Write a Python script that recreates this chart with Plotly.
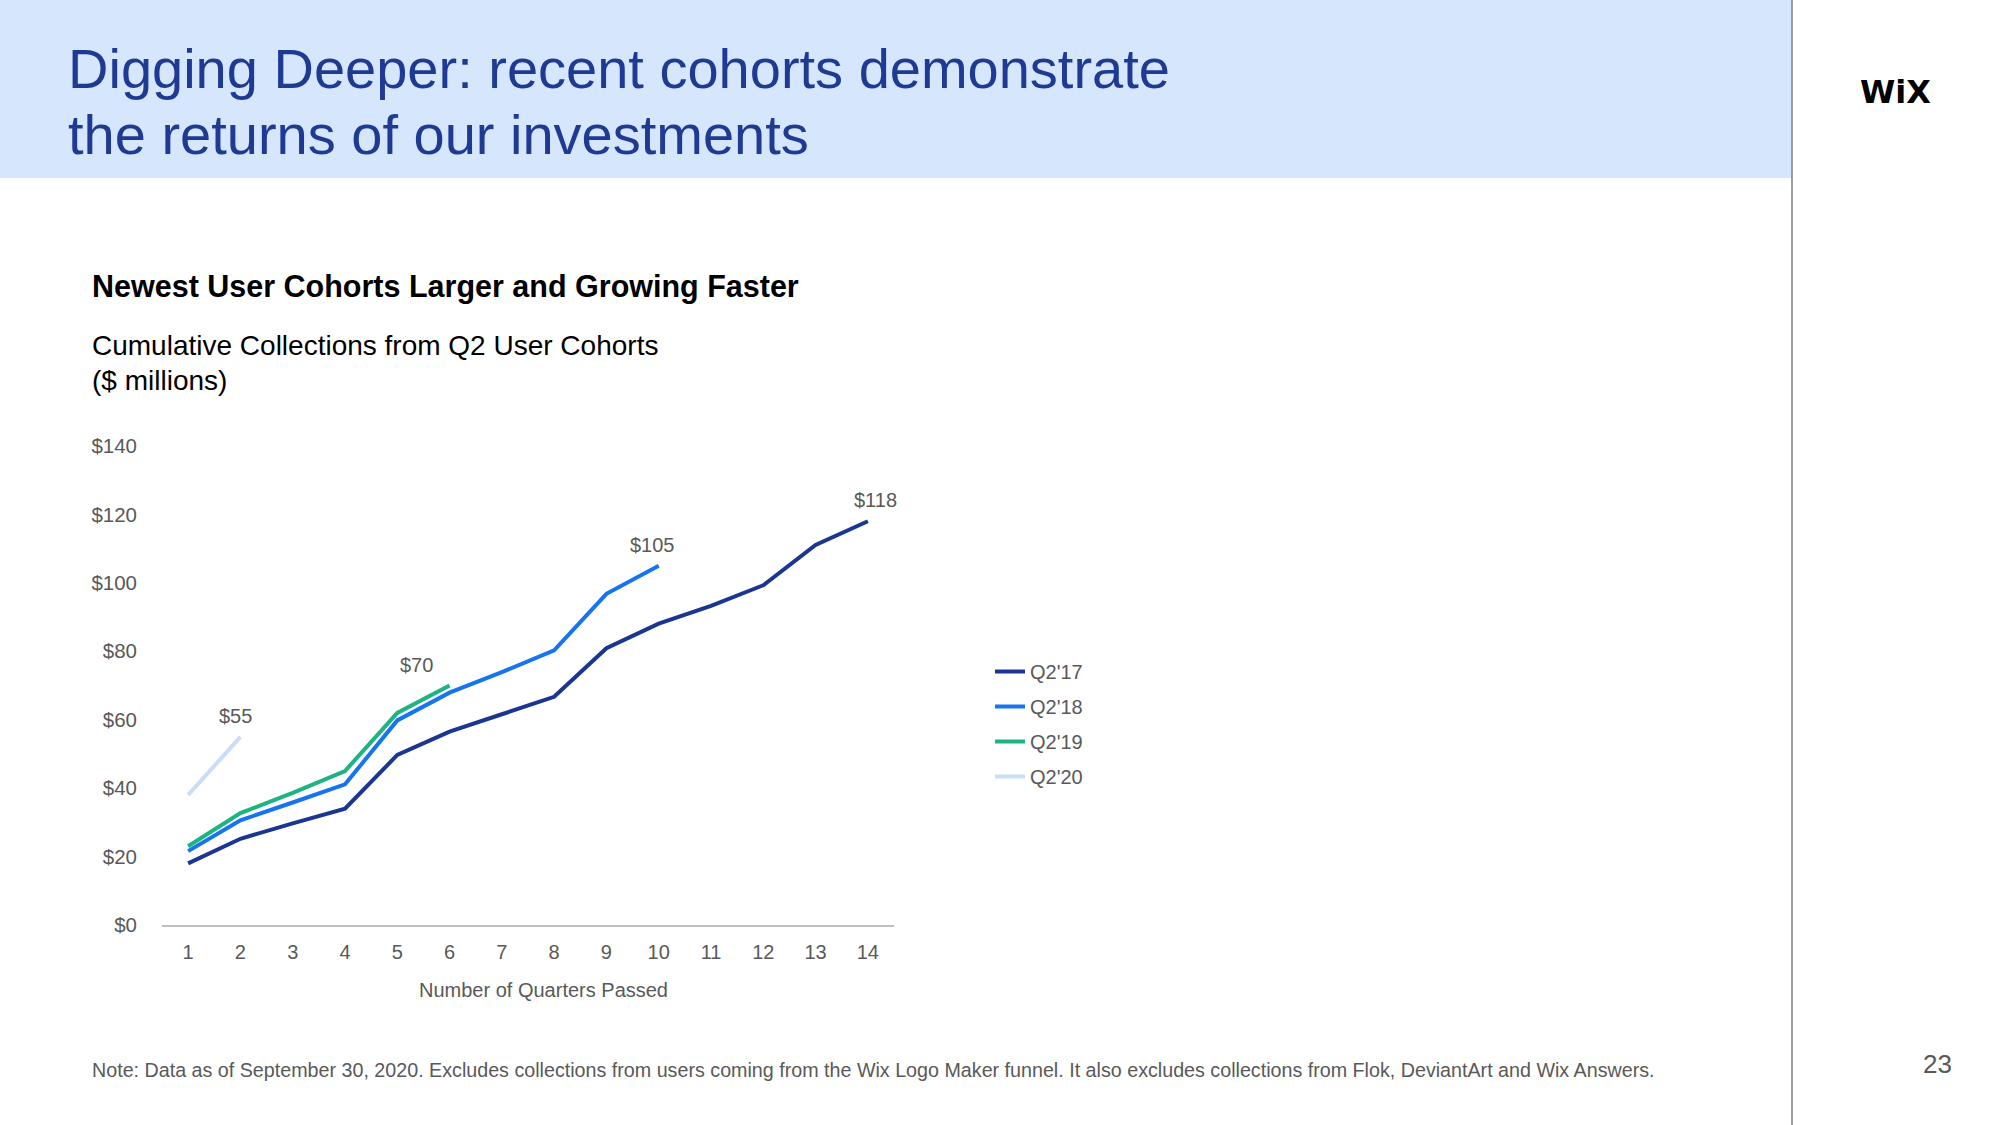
import plotly.graph_objects as go

quarters = list(range(1, 15))
q2_17 = [18, 25.2, 29.7, 34, 49.7, 56.5, 61.6, 66.7, 80.9, 88.1, 93.3, 99.3, 111.1, 118]
q2_18 = [21.6, 30.6, 35.8, 41.1, 59.8, 67.9, 73.9, 80.3, 96.8, 105]
q2_19 = [23, 32.7, 38.6, 45, 62, 70]
q2_20 = [38, 55]

series_names = ["Q2'17", "Q2'18", "Q2'19", "Q2'20"]
series_values = [q2_17, q2_18, q2_19, q2_20]
series_colors = ["#1B3690", "#1574EE", "#1DB383", "#CADDF8"]
end_labels = ["$118", "$105", "$70", "$55"]
label_xshift = [8, -6, -33, -5]

y_ticks = [0, 20, 40, 60, 80, 100, 120, 140]
y_tick_text = ["$" + str(v) for v in y_ticks]

FONT = "Liberation Sans, Arial, Helvetica, sans-serif"
GRAY = "#595959"

fig = go.Figure()
for name, vals, col in zip(series_names, series_values, series_colors):
    fig.add_trace(go.Scatter(
        x=quarters[:len(vals)], y=vals, name=name, mode="lines",
        line=dict(color=col, width=4), legendgroup=name, hoverinfo="skip",
    ))

for vals, lab, xs in zip(series_values, end_labels, label_xshift):
    fig.add_annotation(x=len(vals), y=vals[-1], text=lab, showarrow=False,
                       xref="x", yref="y", yshift=21, xshift=xs, yanchor="middle",
                       font=dict(family=FONT, size=20, color=GRAY))

# header band and divider
fig.add_shape(type="rect", xref="paper", yref="paper", x0=-162/732, x1=(1792-162)/732,
              y0=1 + (446-178)/479, y1=1 + 446/479, fillcolor="#D5E6FD", line_width=0, layer="below")
fig.add_shape(type="line", xref="paper", yref="paper", x0=(1792-162)/732, x1=(1792-162)/732,
              y0=-200/479, y1=1 + 446/479, line=dict(color="#808080", width=1.5))

def px_x(px):
    return (px - 162) / 732

def px_y(py):
    return (925 - py) / 479

texts = [
    dict(x=66, y=68, text="Digging Deeper: recent cohorts demonstrate", size=56, color="#1F3A93"),
    dict(x=66, y=134, text="the returns of our investments", size=56, color="#1F3A93"),
    dict(x=90, y=286, text="<b>Newest User Cohorts Larger and Growing Faster</b>", size=30.5, color="#000000"),
    dict(x=90, y=346, text="Cumulative Collections from Q2 User Cohorts", size=28, color="#000000"),
    dict(x=90, y=380, text="($ millions)", size=28, color="#000000"),
    dict(x=90, y=1070, text="Note: Data as of September 30, 2020. Excludes collections from users coming from the Wix Logo Maker funnel. It also excludes collections from Flok, DeviantArt and Wix Answers.", size=19.7, color=GRAY),
]
for t in texts:
    fig.add_annotation(x=px_x(t["x"]), y=px_y(t["y"]), xref="paper", yref="paper",
                       text=t["text"], showarrow=False, xanchor="left", yanchor="middle",
                       font=dict(family=FONT, size=t["size"], color=t["color"]))

# x-axis title (sits slightly right of the plot centre in the reference)
fig.add_annotation(x=px_x(543), y=px_y(990), xref="paper", yref="paper",
                   text="Number of Quarters Passed", showarrow=False,
                   xanchor="center", yanchor="middle",
                   font=dict(family=FONT, size=20, color=GRAY))

fig.add_annotation(x=px_x(1895), y=px_y(92), xref="paper", yref="paper", text="<b>WiX</b>",
                   showarrow=False, xanchor="center", yanchor="middle",
                   font=dict(family="DejaVu Sans, sans-serif", size=32, color="#000000"))
fig.add_annotation(x=px_x(1937), y=px_y(1064), xref="paper", yref="paper", text="23",
                   showarrow=False, xanchor="center", yanchor="middle",
                   font=dict(family=FONT, size=26, color=GRAY))

fig.update_layout(
    width=2000, height=1125,
    margin=dict(l=162, r=1106, t=446, b=200),
    paper_bgcolor="white", plot_bgcolor="white",
    font=dict(family=FONT, color=GRAY),
    showlegend=True,
    legend=dict(x=px_x(990), y=px_y(652), xanchor="left", yanchor="top",
                font=dict(family=FONT, size=20, color=GRAY),
                tracegroupgap=6, traceorder="grouped", itemwidth=30,
                bgcolor="rgba(0,0,0,0)"),
    xaxis=dict(range=[0.5, 14.5], tickmode="array", tickvals=quarters,
               showgrid=False, zeroline=False, showline=True, linecolor="#BFBFBF", linewidth=1.5,
               ticks="", ticklabelstandoff=8,
               tickfont=dict(family=FONT, size=20, color=GRAY)),
    yaxis=dict(range=[0, 140], tickmode="array", tickvals=y_ticks, ticktext=y_tick_text,
               showgrid=False, zeroline=False, showline=False, ticks="",
               ticklabelstandoff=24,
               tickfont=dict(family=FONT, size=20.5, color=GRAY)),
)

fig.write_html("out.html", config={"displayModeBar": False},
               post_script="document.body.style.margin='0';")
